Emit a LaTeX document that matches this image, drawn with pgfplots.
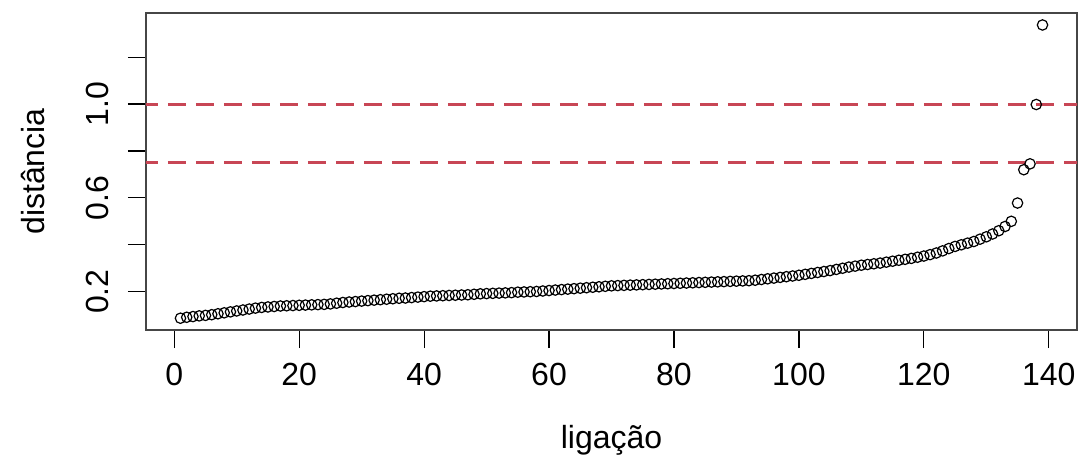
\documentclass[border=0pt]{standalone}
\usepackage{pgfplots}
\pgfplotsset{compat=1.18}
\usepackage{fontspec}
\setmainfont{Liberation Sans}
\definecolor{dashred}{RGB}{200,70,85}
\definecolor{axgray}{RGB}{70,70,70}
\begin{document}
\begin{tikzpicture}
\useasboundingbox (-73pt,-66.5pt) rectangle (467.5pt,165pt);
\begin{axis}[
  at={(0,0)}, anchor=south west,
  scale only axis, width=465.5pt, height=158.5pt,
  xmin=-4.52, xmax=144.52, ymin=0.0367, ymax=1.388,
  font=\fontsize{16}{19}\selectfont,
  /pgf/number format/assume math mode=true,
  axis line style={axgray, line width=0.7pt},
  tick style={black, line width=0.6pt},
  tick align=outside, major tick length=9pt,
  xtick={0,20,...,140},
  ytick={0.2,0.4,0.6,0.8,1.0,1.2},
  yticklabels={0.2,,0.6,,1.0,},
  xticklabel style={yshift=-4pt},
  yticklabel style={rotate=90, anchor=south, yshift=6pt},
  xtick pos=bottom, ytick pos=left,
  xlabel={ligação}, ylabel={distância},
  every axis x label/.style={at={(axis description cs:0.5,-0.347)}, anchor=center},
  every axis y label/.style={at={(axis description cs:-0.1214,0.5)}, rotate=90, anchor=center},
  clip=true,
]
\addplot[only marks, mark=o, mark size=2.6pt, mark options={line width=0.6pt, black}] table[x=i, y=d] {
i d
1 0.087
2 0.091
3 0.094
4 0.097
5 0.099
6 0.102
7 0.106
8 0.110
9 0.114
10 0.118
11 0.122
12 0.126
13 0.130
14 0.133
15 0.135
16 0.137
17 0.139
18 0.140
19 0.141
20 0.142
21 0.143
22 0.144
23 0.145
24 0.146
25 0.148
26 0.151
27 0.154
28 0.156
29 0.158
30 0.160
31 0.162
32 0.164
33 0.166
34 0.168
35 0.170
36 0.172
37 0.173
38 0.175
39 0.177
40 0.179
41 0.181
42 0.182
43 0.183
44 0.184
45 0.185
46 0.186
47 0.187
48 0.189
49 0.191
50 0.192
51 0.193
52 0.194
53 0.195
54 0.196
55 0.198
56 0.199
57 0.200
58 0.201
59 0.203
60 0.205
61 0.207
62 0.209
63 0.211
64 0.213
65 0.215
66 0.217
67 0.219
68 0.221
69 0.223
70 0.225
71 0.226
72 0.227
73 0.228
74 0.229
75 0.230
76 0.231
77 0.232
78 0.233
79 0.234
80 0.235
81 0.236
82 0.237
83 0.238
84 0.239
85 0.240
86 0.241
87 0.242
88 0.243
89 0.244
90 0.245
91 0.246
92 0.247
93 0.249
94 0.252
95 0.255
96 0.258
97 0.261
98 0.264
99 0.267
100 0.270
101 0.274
102 0.278
103 0.282
104 0.286
105 0.290
106 0.295
107 0.300
108 0.305
109 0.309
110 0.313
111 0.316
112 0.319
113 0.322
114 0.326
115 0.330
116 0.334
117 0.338
118 0.342
119 0.347
120 0.352
121 0.358
122 0.365
123 0.374
124 0.384
125 0.393
126 0.400
127 0.407
128 0.414
129 0.424
130 0.434
131 0.446
132 0.460
133 0.478
134 0.500
135 0.578
136 0.720
137 0.745
138 0.998
139 1.337
};
\addplot[dashred, line width=1.5pt, dash pattern=on 9pt off 5pt] coordinates {(-10,1.0) (150,1.0)};
\addplot[dashred, line width=1.5pt, dash pattern=on 9pt off 5pt] coordinates {(-10,0.75) (150,0.75)};
\end{axis}
\end{tikzpicture}
\end{document}
